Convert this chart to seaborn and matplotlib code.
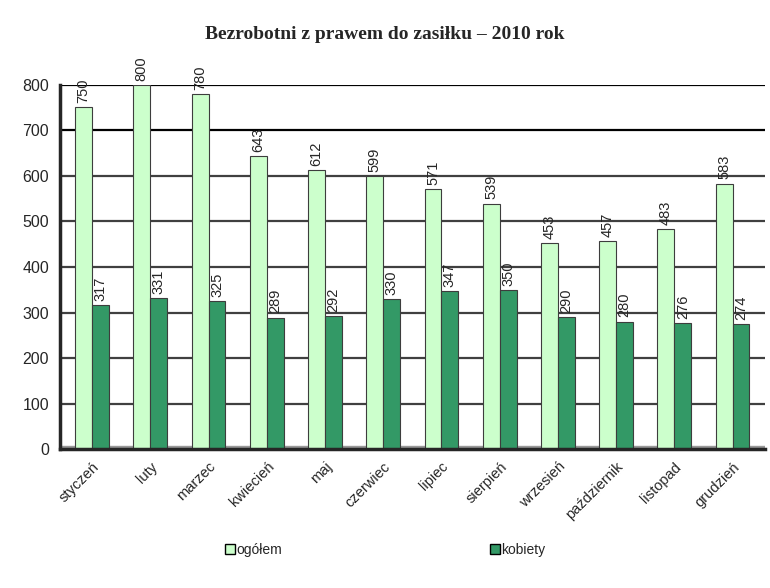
import matplotlib
matplotlib.use("Agg")
import matplotlib.pyplot as plt
import seaborn as sns
import pandas as pd
from matplotlib.patches import Patch

# --- data ---
months = ["styczeń", "luty", "marzec", "kwiecień", "maj", "czerwiec",
          "lipiec", "sierpień", "wrzesień", "październik", "listopad", "grudzień"]
ogolem = [750, 800, 780, 643, 612, 599, 571, 539, 453, 457, 483, 583]
kobiety = [317, 331, 325, 289, 292, 330, 347, 350, 290, 280, 276, 274]
series = ["ogółem", "kobiety"]
yticks = [0, 100, 200, 300, 400, 500, 600, 700, 800]

df = pd.DataFrame({
    "miesiac": months * 2,
    "seria": [series[0]] * len(months) + [series[1]] * len(months),
    "liczba": ogolem + kobiety,
})

sns.set_style("white")
plt.rcParams["font.family"] = ["Liberation Sans", "DejaVu Sans"]

fig = plt.figure(figsize=(7.7, 5.88), dpi=100)
ax = fig.add_axes([0.078, 0.236, 0.915, 0.62])

palette = {"ogółem": "#ccffcc", "kobiety": "#339966"}
sns.barplot(data=df, x="miesiac", y="liczba", hue="seria", palette=palette,
            width=0.58, edgecolor="#3d3d3d", linewidth=0.8, ax=ax, legend=False,
            saturation=1)

# grid + floor
for v in yticks[1:]:
    ax.axhline(v, color="black" if v >= 700 else "#404040", lw=1.6, zorder=0)
ax.axhspan(-6, 6, color="#999999", zorder=0)

ax.set_ylim(0, 800)
ax.set_xlim(-0.55, len(months) - 0.45)
ax.set_yticks(yticks)
ax.tick_params(axis="y", labelsize=11.5, length=4, width=2, direction="out", pad=4)
ax.tick_params(axis="x", labelsize=10.5, length=4, width=2, direction="out")
ax.set_xticks(range(len(months)))
ax.set_xticklabels(months, rotation=45, ha="right", rotation_mode="anchor")
ax.set_xlabel("")
ax.set_ylabel("")
for s in ["top", "right"]:
    ax.spines[s].set_visible(False)
ax.spines["left"].set_linewidth(2.5)
ax.spines["bottom"].set_linewidth(2.5)

# value labels
for cont in ax.containers:
    ax.bar_label(cont, rotation=90, fontsize=10.5, padding=3)

# legend
handles = [Patch(facecolor=palette[s], edgecolor="black", label=s) for s in series]
fig.legend(handles=handles, loc="center", bbox_to_anchor=(0.5, 0.065), ncol=2,
           frameon=False, fontsize=10, handlelength=0.7, handleheight=0.7,
           handletextpad=0.1, columnspacing=15)

fig.suptitle("Bezrobotni z prawem do zasiłku – 2010 rok", y=0.955,
             fontsize=14, fontweight="bold", family="Liberation Serif")

fig.savefig("out.png", dpi=100)
